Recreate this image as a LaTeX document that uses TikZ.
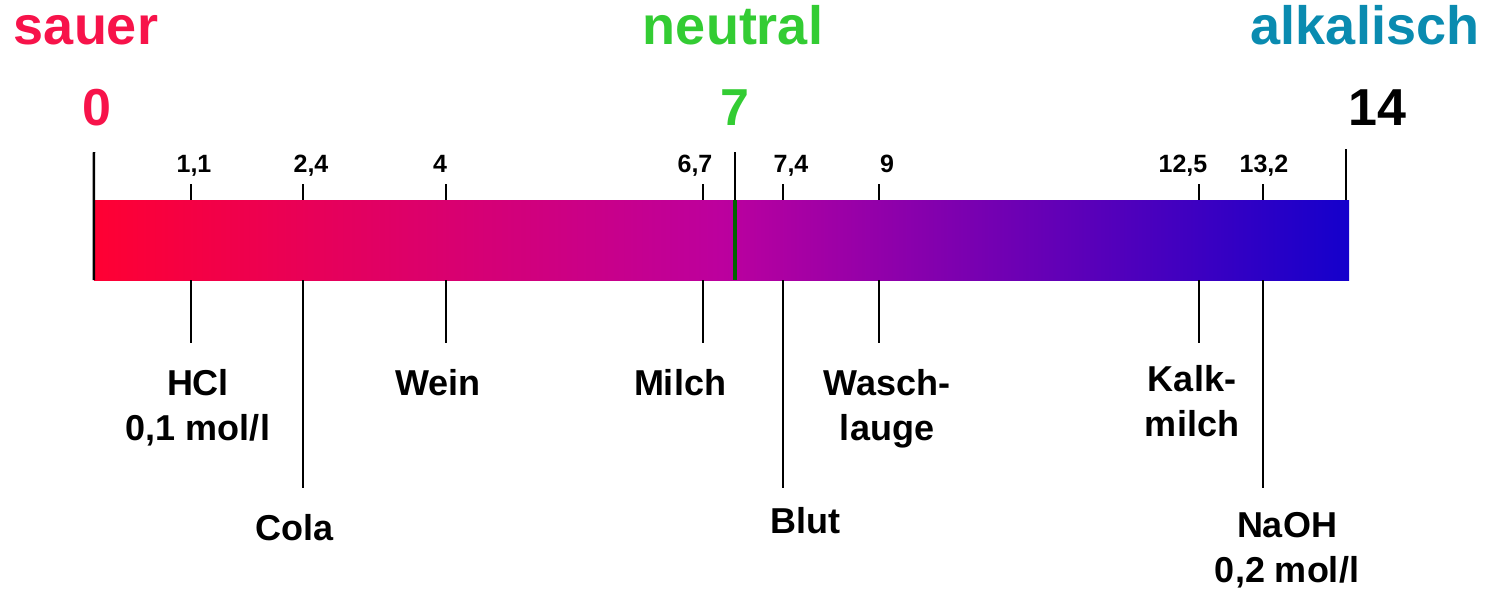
\documentclass[tikz,border=0pt]{standalone}
\usepackage{fontspec}
\setmainfont{Liberation Sans}
\usetikzlibrary{positioning}

\definecolor{sauerrot}{HTML}{F7134A}
\definecolor{neutralgruen}{HTML}{33CC33}
\definecolor{alkaliblau}{HTML}{0A8BB0}
\definecolor{barleft}{HTML}{FF0033}
\definecolor{barmid}{HTML}{BC009E}
\definecolor{barright}{HTML}{1400CC}
\definecolor{neutralline}{HTML}{006400}

\begin{document}
\begin{tikzpicture}[x=1pt, y=-1pt,
  word/.style={font=\bfseries\fontsize{54}{60}\selectfont, inner sep=0pt, anchor=base},
  bignum/.style={font=\bfseries\fontsize{52}{60}\selectfont, inner sep=0pt, anchor=base},
  smallnum/.style={font=\bfseries\fontsize{25}{30}\selectfont, inner sep=0pt, anchor=base},
  stoff/.style={font=\bfseries\fontsize{36}{45}\selectfont, inner sep=0pt, align=center, anchor=north},
  strich/.style={line width=2.5pt}]

  \useasboundingbox (0,0) rectangle (1489,590);

  % headings
  \node[word, text=sauerrot] (sauer) at (86,44) {sauer};
  \node[word, text=neutralgruen] (neutral) at (733,44) {neutral};
  \node[word, text=alkaliblau] (alkalisch) at (1365,44) {alkalisch};

  \node[bignum, text=sauerrot] (ph0) at (97,125) {0};
  \node[bignum, text=neutralgruen] (ph7) at (735,125) {7};
  \node[bignum] (ph14) at (1377,125) {14};

  % the scale
  \node[minimum width=1255pt, minimum height=80pt, inner sep=0pt,
        left color=barleft, right color=barright, middle color=barmid] (bar) at (721.5,240) {};

  \coordinate (ph0-o) at (94,152);
  \coordinate (ph7-o) at (735,152);
  \coordinate (ph14-o) at (1346,149);
  \path[draw, strich] (ph0-o) to (bar.south west);
  \path[draw, strich] (ph7-o) to (ph7-o |- bar.north);
  \path[draw, line width=4pt, neutralline] (ph7-o |- bar.north) to (ph7-o |- bar.south);
  \path[draw, strich] (ph14-o) to (ph14-o |- bar.north);

  % values
  \node[smallnum] (n11) at (194,172) {1,1};
  \node[smallnum] (n24) at (311,172) {2,4};
  \node[smallnum] (n4) at (440,172) {4};
  \node[smallnum] (n67) at (695,172) {6,7};
  \node[smallnum] (n74) at (791,172) {7,4};
  \node[smallnum] (n9) at (887,172) {9};
  \node[smallnum] (n125) at (1183,172) {12,5};
  \node[smallnum] (n132) at (1264,172) {13,2};

  % substances
  \node[stoff] (hcl) at (198,369) {HCl\\0,1 mol/l};
  \node[stoff] (cola) at (295,514) {Cola};
  \node[stoff] (wein) at (438,369) {Wein};
  \node[stoff] (milch) at (680,369) {Milch};
  \node[stoff] (blut) at (805,507) {Blut};
  \node[stoff] (lauge) at (887,369) {Wasch-\\lauge};
  \node[stoff] (kalk) at (1192,365) {Kalk-\\milch};
  \node[stoff] (naoh) at (1287,512) {NaOH\\0,2 mol/l};

  \coordinate (hcl-o) at (191,184);   \coordinate (hcl-u) at (191,343);
  \coordinate (cola-o) at (303,184);  \coordinate (cola-u) at (303,488);
  \coordinate (wein-o) at (446,184);  \coordinate (wein-u) at (446,343);
  \coordinate (milch-o) at (703,184); \coordinate (milch-u) at (703,343);
  \coordinate (blut-o) at (783,184);  \coordinate (blut-u) at (783,488);
  \coordinate (lauge-o) at (879,184); \coordinate (lauge-u) at (879,343);
  \coordinate (kalk-o) at (1199,184); \coordinate (kalk-u) at (1199,343);
  \coordinate (naoh-o) at (1263,184); \coordinate (naoh-u) at (1263,488);

  \path[draw, strich] (hcl-o) to (hcl-o |- bar.north);
  \path[draw, strich] (hcl-u |- bar.south) to (hcl-u);
  \path[draw, strich] (cola-o) to (cola-o |- bar.north);
  \path[draw, strich] (cola-u |- bar.south) to (cola-u);
  \path[draw, strich] (wein-o) to (wein-o |- bar.north);
  \path[draw, strich] (wein-u |- bar.south) to (wein-u);
  \path[draw, strich] (milch-o) to (milch-o |- bar.north);
  \path[draw, strich] (milch-u |- bar.south) to (milch-u);
  \path[draw, strich] (blut-o) to (blut-o |- bar.north);
  \path[draw, strich] (blut-u |- bar.south) to (blut-u);
  \path[draw, strich] (lauge-o) to (lauge-o |- bar.north);
  \path[draw, strich] (lauge-u |- bar.south) to (lauge-u);
  \path[draw, strich] (kalk-o) to (kalk-o |- bar.north);
  \path[draw, strich] (kalk-u |- bar.south) to (kalk-u);
  \path[draw, strich] (naoh-o) to (naoh-o |- bar.north);
  \path[draw, strich] (naoh-u |- bar.south) to (naoh-u);

\end{tikzpicture}
\end{document}
